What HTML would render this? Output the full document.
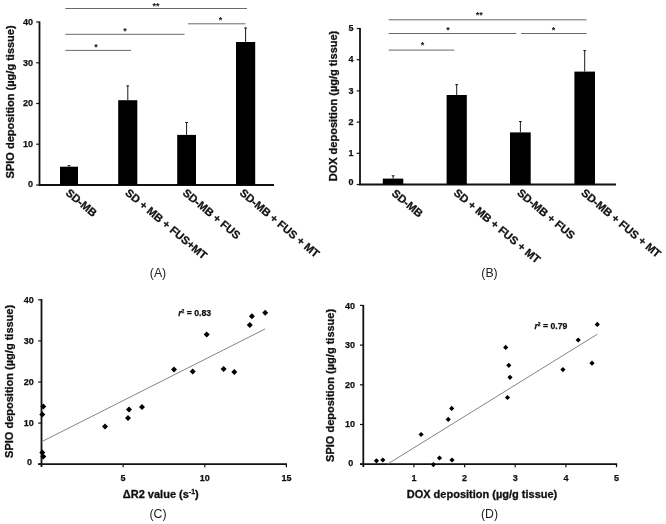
<!DOCTYPE html>
<html lang="en"><head><meta charset="utf-8"><title>Figure</title>
<style>html,body{margin:0;padding:0;background:#fff}svg{display:block}text{font-family:"Liberation Sans",Arial,sans-serif;fill:#111}.b{font-weight:bold}.t{font-size:9px;font-weight:bold;stroke:#111;stroke-width:.25px}.ti{font-size:11px;font-weight:bold;stroke:#111;stroke-width:.3px}.c{font-size:11.1px;font-weight:bold;stroke:#111;stroke-width:.3px}.p{font-size:12.3px;fill:#222}.r{font-size:8.7px;font-weight:bold;stroke:#111;stroke-width:.25px}.s{font-size:9px;font-weight:bold}</style></head><body>
<svg width="666" height="524" viewBox="0 0 666 524">
<rect width="666" height="524" fill="#fff"/>
<g stroke="#111" stroke-width="1.8" fill="none">
<path d="M39.5 21.5V185H274"/>
<path d="M36.2 185.0H39.5" stroke-width="1.2"/>
<path d="M36.2 144.2H39.5" stroke-width="1.2"/>
<path d="M36.2 103.5H39.5" stroke-width="1.2"/>
<path d="M36.2 62.8H39.5" stroke-width="1.2"/>
<path d="M36.2 22.0H39.5" stroke-width="1.2"/>
</g>
<text class="t" x="33.0" y="186.5" text-anchor="end">0</text>
<text class="t" x="33.0" y="146.9" text-anchor="end">10</text>
<text class="t" x="33.0" y="106.2" text-anchor="end">20</text>
<text class="t" x="33.0" y="65.5" text-anchor="end">30</text>
<text class="t" x="33.0" y="24.7" text-anchor="end">40</text>
<rect x="60" y="166.7" width="18.0" height="18.3" fill="#000"/>
<path d="M69.0 166.7V165.4M67.6 165.7h2.8" stroke="#1a1a1a" stroke-width="1" fill="none"/>
<rect x="118.2" y="100.2" width="19.1" height="84.8" fill="#000"/>
<path d="M127.8 100.2V85.6M126.3 85.9h2.8" stroke="#1a1a1a" stroke-width="1" fill="none"/>
<rect x="177.2" y="134.9" width="18.8" height="50.1" fill="#000"/>
<path d="M186.6 134.9V122.2M185.2 122.5h2.8" stroke="#1a1a1a" stroke-width="1" fill="none"/>
<rect x="236" y="42.0" width="19.2" height="143.0" fill="#000"/>
<path d="M245.6 42.0V27.7M244.2 28.0h2.8" stroke="#1a1a1a" stroke-width="1" fill="none"/>
<text class="ti" transform="translate(13.8 101.9) rotate(-90)" text-anchor="middle">SPIO deposition (µg/g tissue)</text>
<text class="c" transform="translate(65 194) rotate(40)">SD-MB</text>
<text class="c" transform="translate(124.5 194) rotate(40)">SD + MB + FUS+MT</text>
<text class="c" transform="translate(182 194) rotate(40)">SD-MB + FUS</text>
<text class="c" transform="translate(239 194) rotate(40)">SD-MB + FUS + MT</text>
<path d="M65.4 8.5H247" stroke="#6a6a6a" stroke-width="1"/>
<text class="s" x="156" y="9" text-anchor="middle">**</text>
<path d="M65.4 34.3H184.5" stroke="#6a6a6a" stroke-width="1"/>
<text class="s" x="125" y="34.3" text-anchor="middle">*</text>
<path d="M65.4 50.4H131" stroke="#6a6a6a" stroke-width="1"/>
<text class="s" x="96" y="49.5" text-anchor="middle">*</text>
<path d="M188 23.8H245.5" stroke="#6a6a6a" stroke-width="1"/>
<text class="s" x="220.5" y="23.3" text-anchor="middle">*</text>
<g stroke="#111" stroke-width="1.8" fill="none">
<path d="M360 28.0V184.5H616"/>
<path d="M356.7 184.5H360" stroke-width="1.2"/>
<path d="M356.7 153.3H360" stroke-width="1.2"/>
<path d="M356.7 122.1H360" stroke-width="1.2"/>
<path d="M356.7 90.9H360" stroke-width="1.2"/>
<path d="M356.7 59.7H360" stroke-width="1.2"/>
<path d="M356.7 28.5H360" stroke-width="1.2"/>
</g>
<text class="t" x="353.5" y="184.5" text-anchor="end">0</text>
<text class="t" x="353.5" y="156.4" text-anchor="end">1</text>
<text class="t" x="353.5" y="124.8" text-anchor="end">2</text>
<text class="t" x="353.5" y="93.6" text-anchor="end">3</text>
<text class="t" x="353.5" y="62.4" text-anchor="end">4</text>
<text class="t" x="353.5" y="31.2" text-anchor="end">5</text>
<rect x="382.8" y="178.6" width="20.5" height="5.9" fill="#000"/>
<path d="M393.1 178.6V175.5M391.7 175.8h2.8" stroke="#1a1a1a" stroke-width="1" fill="none"/>
<rect x="446.6" y="95.0" width="20.2" height="89.5" fill="#000"/>
<path d="M456.7 95.0V84.3M455.3 84.6h2.8" stroke="#1a1a1a" stroke-width="1" fill="none"/>
<rect x="510" y="132.4" width="20.7" height="52.1" fill="#000"/>
<path d="M520.4 132.4V121.2M519.0 121.5h2.8" stroke="#1a1a1a" stroke-width="1" fill="none"/>
<rect x="574.4" y="71.6" width="20.6" height="112.9" fill="#000"/>
<path d="M584.7 71.6V50.3M583.3 50.6h2.8" stroke="#1a1a1a" stroke-width="1" fill="none"/>
<text class="ti" transform="translate(337.4 106.0) rotate(-90)" text-anchor="middle">DOX deposition (µg/g tissue)</text>
<text class="c" transform="translate(391 194.5) rotate(40)">SD-MB</text>
<text class="c" transform="translate(453 194) rotate(40)">SD + MB + FUS + MT</text>
<text class="c" transform="translate(516.4 194) rotate(40)">SD-MB + FUS</text>
<text class="c" transform="translate(580.5 194) rotate(40)">SD-MB + FUS + MT</text>
<path d="M388.6 19.8H586.6" stroke="#6a6a6a" stroke-width="1"/>
<text class="s" x="479.3" y="18" text-anchor="middle">**</text>
<path d="M388.6 33.5H516.4" stroke="#6a6a6a" stroke-width="1"/>
<text class="s" x="448" y="33.2" text-anchor="middle">*</text>
<path d="M388.6 50.1H454.3" stroke="#6a6a6a" stroke-width="1"/>
<text class="s" x="422.6" y="48" text-anchor="middle">*</text>
<path d="M521 33.5H586.6" stroke="#6a6a6a" stroke-width="1"/>
<text class="s" x="553.4" y="33.2" text-anchor="middle">*</text>
<g stroke="#111" stroke-width="1.8" fill="none">
<path d="M41.5 299.0V467.0M38.2 464.2H287"/>
<path d="M38.2 464.2H41.5" stroke-width="1.2"/>
<path d="M38.2 423.1H41.5" stroke-width="1.2"/>
<path d="M38.2 382.0H41.5" stroke-width="1.2"/>
<path d="M38.2 340.9H41.5" stroke-width="1.2"/>
<path d="M38.2 299.8H41.5" stroke-width="1.2"/>
<path d="M123.1 464.2V467.2" stroke-width="1.2"/>
<path d="M204.8 464.2V467.2" stroke-width="1.2"/>
<path d="M286.4 464.2V467.2" stroke-width="1.2"/>
</g>
<text class="t" x="31.9" y="464.9" text-anchor="end">0</text>
<text class="t" x="33.7" y="425.8" text-anchor="end">10</text>
<text class="t" x="33.7" y="384.7" text-anchor="end">20</text>
<text class="t" x="33.7" y="343.6" text-anchor="end">30</text>
<text class="t" x="33.7" y="302.5" text-anchor="end">40</text>
<text class="t" x="123.1" y="480.59999999999997" text-anchor="middle">5</text>
<text class="t" x="204.8" y="480.59999999999997" text-anchor="middle">10</text>
<text class="t" x="286.4" y="480.59999999999997" text-anchor="middle">15</text>
<path d="M41.5 441.8L265.2 328.9" stroke="#777" stroke-width="0.9"/>
<path d="M43.3 403.4l3.0 3.0l-3.0 3.0l-3.0 -3.0zM42.3 411.4l3.0 3.0l-3.0 3.0l-3.0 -3.0zM42.3 449.4l3.0 3.0l-3.0 3.0l-3.0 -3.0zM43.3 453.4l3.0 3.0l-3.0 3.0l-3.0 -3.0zM105.0 423.4l3.0 3.0l-3.0 3.0l-3.0 -3.0zM128.0 414.9l3.0 3.0l-3.0 3.0l-3.0 -3.0zM129.0 406.4l3.0 3.0l-3.0 3.0l-3.0 -3.0zM142.0 403.9l3.0 3.0l-3.0 3.0l-3.0 -3.0zM174.0 366.6l3.0 3.0l-3.0 3.0l-3.0 -3.0zM192.7 368.4l3.0 3.0l-3.0 3.0l-3.0 -3.0zM206.7 331.6l3.0 3.0l-3.0 3.0l-3.0 -3.0zM223.6 366.1l3.0 3.0l-3.0 3.0l-3.0 -3.0zM234.3 368.9l3.0 3.0l-3.0 3.0l-3.0 -3.0zM249.8 321.9l3.0 3.0l-3.0 3.0l-3.0 -3.0zM251.9 313.3l3.0 3.0l-3.0 3.0l-3.0 -3.0zM265.2 309.7l3.0 3.0l-3.0 3.0l-3.0 -3.0z" fill="#000"/>
<text class="ti" transform="translate(13.4 381.4) rotate(-90)" text-anchor="middle">SPIO deposition (µg/g tissue)</text>
<text class="ti" x="160.8" y="497.7" text-anchor="middle">ΔR2 value (s<tspan font-size="7px" dy="-4">-1</tspan><tspan dy="4">)</tspan></text>
<text class="r" x="178.2" y="316.1"><tspan font-style="italic">r</tspan><tspan font-size="5px" dy="-3">2</tspan><tspan dy="3"> = 0.83</tspan></text>
<g stroke="#111" stroke-width="1.8" fill="none">
<path d="M363.3 305.0V467.0M360.0 464.2H617.2"/>
<path d="M360.0 464.2H363.3" stroke-width="1.2"/>
<path d="M360.0 424.5H363.3" stroke-width="1.2"/>
<path d="M360.0 384.8H363.3" stroke-width="1.2"/>
<path d="M360.0 345.1H363.3" stroke-width="1.2"/>
<path d="M360.0 305.4H363.3" stroke-width="1.2"/>
<path d="M413.9 464.2V467.2" stroke-width="1.2"/>
<path d="M464.6 464.2V467.2" stroke-width="1.2"/>
<path d="M515.2 464.2V467.2" stroke-width="1.2"/>
<path d="M565.9 464.2V467.2" stroke-width="1.2"/>
<path d="M616.5 464.2V467.2" stroke-width="1.2"/>
</g>
<text class="t" x="353.3" y="465.9" text-anchor="end">0</text>
<text class="t" x="355.1" y="427.2" text-anchor="end">10</text>
<text class="t" x="355.1" y="387.5" text-anchor="end">20</text>
<text class="t" x="355.1" y="347.8" text-anchor="end">30</text>
<text class="t" x="355.1" y="309.1" text-anchor="end">40</text>
<text class="t" x="413.9" y="480.59999999999997" text-anchor="middle">1</text>
<text class="t" x="464.6" y="480.59999999999997" text-anchor="middle">2</text>
<text class="t" x="515.2" y="480.59999999999997" text-anchor="middle">3</text>
<text class="t" x="565.9" y="480.59999999999997" text-anchor="middle">4</text>
<text class="t" x="616.5" y="480.59999999999997" text-anchor="middle">5</text>
<path d="M387.4 464.2L597.3 334.2" stroke="#777" stroke-width="0.9"/>
<path d="M376.5 458.2l2.6 2.6l-2.6 2.6l-2.6 -2.6zM382.8 457.4l2.6 2.6l-2.6 2.6l-2.6 -2.6zM421.1 431.9l2.6 2.6l-2.6 2.6l-2.6 -2.6zM433.4 462.0l2.6 2.6l-2.6 2.6l-2.6 -2.6zM439.5 455.4l2.6 2.6l-2.6 2.6l-2.6 -2.6zM448.2 416.8l2.6 2.6l-2.6 2.6l-2.6 -2.6zM451.7 405.8l2.6 2.6l-2.6 2.6l-2.6 -2.6zM452.0 457.4l2.6 2.6l-2.6 2.6l-2.6 -2.6zM505.7 344.8l2.6 2.6l-2.6 2.6l-2.6 -2.6zM508.8 362.7l2.6 2.6l-2.6 2.6l-2.6 -2.6zM510.0 374.7l2.6 2.6l-2.6 2.6l-2.6 -2.6zM507.5 394.9l2.6 2.6l-2.6 2.6l-2.6 -2.6zM562.9 367.0l2.6 2.6l-2.6 2.6l-2.6 -2.6zM578.2 337.4l2.6 2.6l-2.6 2.6l-2.6 -2.6zM592.0 360.6l2.6 2.6l-2.6 2.6l-2.6 -2.6zM597.3 321.8l2.6 2.6l-2.6 2.6l-2.6 -2.6z" fill="#000"/>
<text class="ti" transform="translate(334.2 385.4) rotate(-90)" text-anchor="middle">SPIO deposition (µg/g tissue)</text>
<text class="ti" x="482" y="497.7" text-anchor="middle">DOX deposition (µg/g tissue)</text>
<text class="r" x="534.4" y="328.6"><tspan font-style="italic">r</tspan><tspan font-size="5px" dy="-3">2</tspan><tspan dy="3"> = 0.79</tspan></text>
<text class="p" x="158" y="277.3" text-anchor="middle">(A)</text>
<text class="p" x="489.5" y="277.3" text-anchor="middle">(B)</text>
<text class="p" x="158" y="518.3" text-anchor="middle">(C)</text>
<text class="p" x="489.5" y="518.3" text-anchor="middle">(D)</text>
</svg></body></html>
